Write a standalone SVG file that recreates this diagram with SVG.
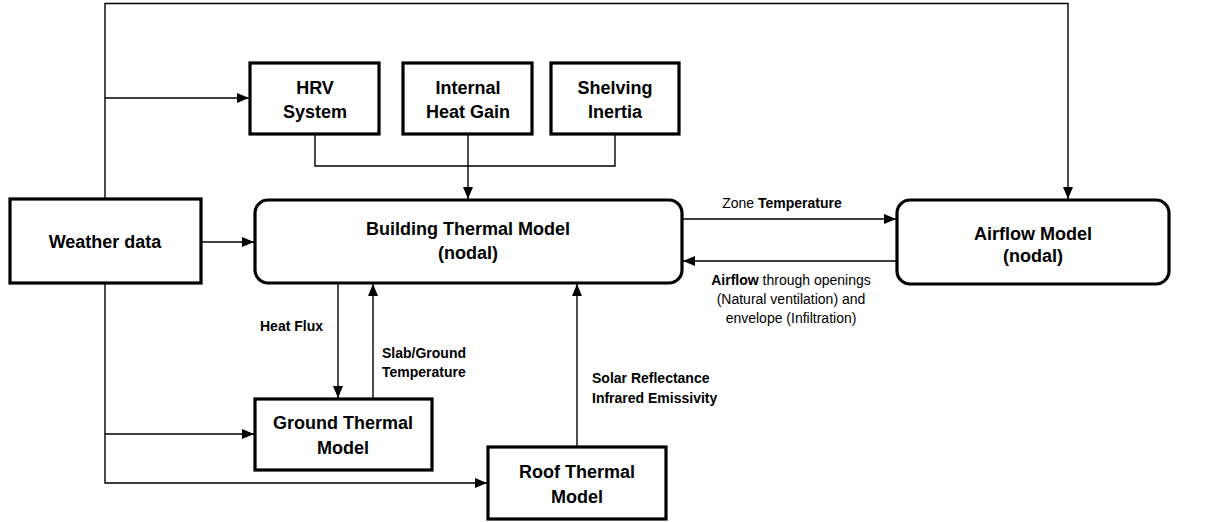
<svg xmlns="http://www.w3.org/2000/svg" width="1219" height="522" viewBox="0 0 1219 522">
<style>
.box{fill:#fff;stroke:#000;stroke-width:3.2}
.t{font-family:"Liberation Sans",Arial,sans-serif;font-size:18px;font-weight:bold;text-anchor:middle;fill:#000}
.l{font-family:"Liberation Sans",Arial,sans-serif;font-size:14px;fill:#000}
.b{font-weight:bold}
.c{fill:none;stroke:#000;stroke-width:1.4}
</style>
<defs>
<marker id="ah" markerUnits="userSpaceOnUse" markerWidth="12" markerHeight="10" refX="12" refY="5" orient="auto">
<path d="M0,0 L12,5 L0,10 z" fill="#000"/>
</marker>
</defs>
<rect width="1219" height="522" fill="#fff"/>
<g id="connectors">
<polyline class="c" points="105,199 105,3.5 1068,3.5 1068,199" marker-end="url(#ah)"/>
<line class="c" x1="105" y1="98" x2="249" y2="98" marker-end="url(#ah)"/>
<line class="c" x1="201" y1="242" x2="254" y2="242" marker-end="url(#ah)"/>
<polyline class="c" points="315,134 315,166 615,166 615,134"/>
<line class="c" x1="468" y1="134" x2="468" y2="199" marker-end="url(#ah)"/>
<polyline class="c" points="105,283 105,483 487,483" marker-end="url(#ah)"/>
<line class="c" x1="105" y1="434" x2="254" y2="434" marker-end="url(#ah)"/>
<line class="c" x1="338" y1="283" x2="338" y2="398" marker-end="url(#ah)"/>
<line class="c" x1="373" y1="399" x2="373" y2="284" marker-end="url(#ah)"/>
<line class="c" x1="577" y1="447" x2="577" y2="284" marker-end="url(#ah)"/>
<line class="c" x1="682" y1="219" x2="896" y2="219" marker-end="url(#ah)"/>
<line class="c" x1="897" y1="261" x2="683" y2="261" marker-end="url(#ah)"/>
<text class="l" x="782" y="208" text-anchor="middle">Zone <tspan class="b">Temperature</tspan></text>
<text class="l" x="791" y="285" text-anchor="middle"><tspan class="b">Airflow</tspan> through openings</text>
<text class="l" x="791" y="304" text-anchor="middle">(Natural ventilation) and</text>
<text class="l" x="791" y="323" text-anchor="middle">envelope (Infiltration)</text>
<text class="l b" x="260" y="331">Heat Flux</text>
<text class="l b" x="382" y="358">Slab/Ground</text>
<text class="l b" x="382" y="377">Temperature</text>
<text class="l b" x="592" y="383">Solar Reflectance</text>
<text class="l b" x="592" y="403">Infrared Emissivity</text>
</g>
<g id="weather">
<rect class="box" x="10" y="199" width="191" height="84"/>
<text class="t" x="105" y="248">Weather data</text>
</g>
<g id="hrv">
<rect class="box" x="250" y="63" width="129" height="71"/>
<text class="t" x="315" y="94">HRV</text>
<text class="t" x="315" y="118">System</text>
</g>
<g id="internal">
<rect class="box" x="403" y="63" width="129" height="71"/>
<text class="t" x="468" y="94">Internal</text>
<text class="t" x="468" y="118">Heat Gain</text>
</g>
<g id="shelving">
<rect class="box" x="551" y="63" width="128" height="71"/>
<text class="t" x="615" y="94">Shelving</text>
<text class="t" x="615" y="118">Inertia</text>
</g>
<g id="building">
<rect class="box" x="255" y="200" width="427" height="83" rx="13" ry="13"/>
<text class="t" x="468" y="235">Building Thermal Model</text>
<text class="t" x="468" y="259">(nodal)</text>
</g>
<g id="airflow">
<rect class="box" x="897" y="200" width="272" height="84" rx="13" ry="13"/>
<text class="t" x="1033" y="240">Airflow Model</text>
<text class="t" x="1033" y="262">(nodal)</text>
</g>
<g id="ground">
<rect class="box" x="255" y="399" width="177" height="71"/>
<text class="t" x="343" y="429">Ground Thermal</text>
<text class="t" x="343" y="454">Model</text>
</g>
<g id="roof">
<rect class="box" x="488" y="447" width="178" height="72"/>
<text class="t" x="577" y="478">Roof Thermal</text>
<text class="t" x="577" y="503">Model</text>
</g>
</svg>
